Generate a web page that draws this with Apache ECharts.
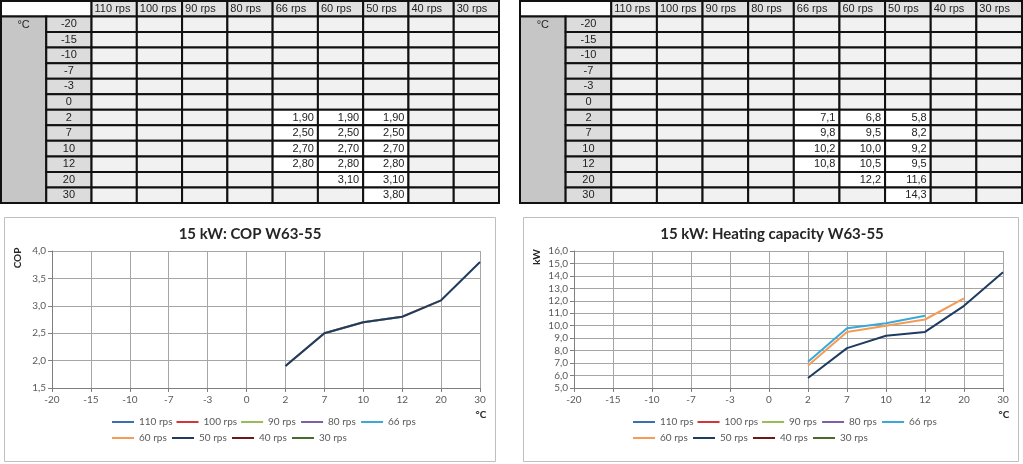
<!DOCTYPE html>
<html>
<head>
<meta charset="utf-8">
<script src="https://cdn.jsdelivr.net/npm/echarts@6/dist/echarts.min.js"></script>
<style>
  html, body { margin: 0; padding: 0; background: #ffffff; }
  #main { width: 1023px; height: 464px; }
</style>
</head>
<body>
<div id="main"></div>
<script>
// ---------- data ----------
const temps = ['-20', '-15', '-10', '-7', '-3', '0', '2', '7', '10', '12', '20', '30'];
const rpsLabels = ['110 rps', '100 rps', '90 rps', '80 rps', '66 rps', '60 rps', '50 rps', '40 rps', '30 rps'];
const rpsColors = ['#3a6fb5', '#d2353a', '#9bbb59', '#7e5fa8', '#38a9d8', '#f59b55', '#1f3b60', '#6b1a1a', '#4a6a2a'];
const E = null;
const none = [E, E, E, E, E, E, E, E, E, E, E, E];
// COP W63-55
const cop66 = [E, E, E, E, E, E, 1.90, 2.50, 2.70, 2.80, E, E];
const cop60 = [E, E, E, E, E, E, 1.90, 2.50, 2.70, 2.80, 3.10, E];
const cop50 = [E, E, E, E, E, E, 1.90, 2.50, 2.70, 2.80, 3.10, 3.80];
// Heating capacity W63-55 (kW)
const cap66 = [E, E, E, E, E, E, 7.1, 9.8, 10.2, 10.8, E, E];
const cap60 = [E, E, E, E, E, E, 6.8, 9.5, 10.0, 10.5, 12.2, E];
const cap50 = [E, E, E, E, E, E, 5.8, 8.2, 9.2, 9.5, 11.6, 14.3];
const copByRps = [none, none, none, none, cop66, cop60, cop50, none, none];
const capByRps = [none, none, none, none, cap66, cap60, cap50, none, none];
const copTitle = '15 kW: COP W63-55';
const capTitle = '15 kW: Heating capacity W63-55';

// ---------- helpers ----------
const FONT = "'Liberation Sans', Arial, sans-serif";
const CFONT = "Lato, 'Open Sans', sans-serif";
function fmt(v, d) { return v.toFixed(d).replace('.', ','); }

function buildCells(values, digits) {
  const cells = [];
  cells.push({ x0: 0, y0: 0, x1: 2, y1: 1, text: '', fill: '#ffffff', align: 'left' });
  rpsLabels.forEach((l, i) => cells.push({ x0: i + 2, y0: 0, x1: i + 3, y1: 1, text: l, fill: '#e2e2e2', align: 'left' }));
  cells.push({ x0: 0, y0: 1, x1: 1, y1: 13, text: '°C', fill: '#c6c6c6', align: 'top' });
  temps.forEach((t, r) => {
    cells.push({ x0: 1, y0: r + 1, x1: 2, y1: r + 2, text: t, fill: '#dcdcdc', align: 'center' });
    rpsLabels.forEach((l, i) => {
      const v = values[i][r];
      cells.push({ x0: i + 2, y0: r + 1, x1: i + 3, y1: r + 2,
        text: v == null ? '' : fmt(v, digits), fill: v == null ? '#f1f1f1' : '#ffffff', align: 'right' });
    });
  });
  return cells;
}

function makeRender(cells) {
  return function (params, api) {
    const c = cells[params.dataIndex];
    const p0 = api.coord([api.value(0), api.value(1)]);
    const p1 = api.coord([api.value(2), api.value(3)]);
    const x = Math.min(p0[0], p1[0]), y = Math.min(p0[1], p1[1]);
    const w = Math.abs(p1[0] - p0[0]), h = Math.abs(p1[1] - p0[1]);
    let tx = x + w / 2, ty = y + h / 2, ta = 'center';
    if (c.align === 'left') { tx = x + 3; ta = 'left'; }
    else if (c.align === 'right') { tx = x + w - 4; ta = 'right'; }
    else if (c.align === 'top') { ty = y + 8; }
    return {
      type: 'group',
      children: [
        { type: 'rect', shape: { x: x, y: y, width: w, height: h },
          style: { fill: c.fill, stroke: '#111111', lineWidth: 2 } },
        { type: 'text', style: { text: c.text, x: tx, y: ty, align: ta, verticalAlign: 'middle',
          font: '11px ' + FONT, fill: '#222222' } }
      ]
    };
  };
}

const copCells = buildCells(copByRps, 2);
const capCells = buildCells(capByRps, 1);

function tableAxes(idx) {
  return {
    x: { type: 'value', gridIndex: idx, min: 0, max: 11, show: false },
    y: { type: 'value', gridIndex: idx, min: 0, max: 13, inverse: true, show: false }
  };
}
const t0 = tableAxes(0), t1 = tableAxes(1);

function chartX(idx) {
  return {
    type: 'category', gridIndex: idx, data: temps, boundaryGap: false,
    axisLine: { lineStyle: { color: '#7f7f7f', width: 1 } },
    axisTick: { show: true, length: 4, lineStyle: { color: '#7f7f7f' } },
    axisLabel: { color: '#595959', fontSize: 10, fontFamily: CFONT, margin: 7 },
    splitLine: { show: true, lineStyle: { color: '#a6a6a6', width: 1 } }
  };
}
function chartY(idx, min, max, interval) {
  return {
    type: 'value', gridIndex: idx, min: min, max: max, interval: interval,
    axisLine: { show: true, lineStyle: { color: '#7f7f7f', width: 1 } },
    axisTick: { show: true, length: 4, lineStyle: { color: '#7f7f7f' } },
    axisLabel: { color: '#595959', fontSize: 10, fontFamily: CFONT, margin: 6,
      formatter: v => fmt(v, 1) },
    splitLine: { show: true, lineStyle: { color: '#a6a6a6', width: 1 } }
  };
}

const series = [
  { type: 'custom', name: 'COP table', xAxisIndex: 0, yAxisIndex: 0, renderItem: makeRender(copCells),
    data: copCells.map(c => [c.x0, c.y0, c.x1, c.y1]), encode: { x: [0, 2], y: [1, 3] }, silent: true },
  { type: 'custom', name: 'Capacity table', xAxisIndex: 1, yAxisIndex: 1, renderItem: makeRender(capCells),
    data: capCells.map(c => [c.x0, c.y0, c.x1, c.y1]), encode: { x: [0, 2], y: [1, 3] }, silent: true }
];
rpsLabels.forEach((name, i) => {
  series.push({ type: 'line', name: name, xAxisIndex: 2, yAxisIndex: 2, data: copByRps[i],
    symbol: 'none', color: rpsColors[i], lineStyle: { width: 2, color: rpsColors[i] }, connectNulls: false });
});
rpsLabels.forEach((name, i) => {
  series.push({ type: 'line', name: name, xAxisIndex: 3, yAxisIndex: 3, data: capByRps[i],
    symbol: 'none', color: rpsColors[i], lineStyle: { width: 2, color: rpsColors[i] }, connectNulls: false });
});

function legendAt(left) {
  return {
    left: left, top: 416, width: 340, orient: 'horizontal', padding: 0,
    icon: 'rect', itemWidth: 22, itemHeight: 2, itemGap: 4,
    textStyle: { fontSize: 10, color: '#595959', fontFamily: CFONT, width: 29, lineHeight: 12 },
    data: rpsLabels
  };
}

const option = {
  animation: false,
  backgroundColor: '#ffffff',
  title: [
    { text: copTitle, left: 250, top: 227, textAlign: 'center', padding: 0,
      textStyle: { fontSize: 15, fontWeight: 'bold', color: '#262626', fontFamily: CFONT } },
    { text: capTitle, left: 772, top: 227, textAlign: 'center', padding: 0,
      textStyle: { fontSize: 15, fontWeight: 'bold', color: '#262626', fontFamily: CFONT } }
  ],
  legend: [legendAt(112), legendAt(633)],
  grid: [
    { left: 1, top: 1, width: 498, height: 202 },
    { left: 520, top: 1, width: 502, height: 202 },
    { left: 52, top: 251, width: 428, height: 137 },
    { left: 574, top: 251, width: 429, height: 137 }
  ],
  xAxis: [t0.x, t1.x, chartX(2), chartX(3)],
  yAxis: [t0.y, t1.y, chartY(2, 1.5, 4, 0.5), chartY(3, 5, 16, 1)],
  graphic: [
    { type: 'rect', z: -1, shape: { x: 4.5, y: 217.5, width: 491, height: 244 },
      style: { fill: 'none', stroke: '#bfbfbf', lineWidth: 1 } },
    { type: 'rect', z: -1, shape: { x: 523.5, y: 217.5, width: 495, height: 244 },
      style: { fill: 'none', stroke: '#bfbfbf', lineWidth: 1 } },
    { type: 'text', x: 18, y: 258, rotation: Math.PI / 2,
      style: { text: 'COP', font: 'bold 10px ' + CFONT, fill: '#262626', align: 'center', verticalAlign: 'middle' } },
    { type: 'text', x: 537, y: 257, rotation: Math.PI / 2,
      style: { text: 'kW', font: 'bold 10px ' + CFONT, fill: '#262626', align: 'center', verticalAlign: 'middle' } },
    { type: 'text', x: 481, y: 415,
      style: { text: '°C', font: 'bold 10px ' + CFONT, fill: '#262626', align: 'center', verticalAlign: 'middle' } },
    { type: 'text', x: 1004, y: 415,
      style: { text: '°C', font: 'bold 10px ' + CFONT, fill: '#262626', align: 'center', verticalAlign: 'middle' } }
  ],
  series: series
};

const chart = echarts.init(document.getElementById('main'), null, { renderer: 'canvas' });
chart.setOption(option);
</script>
</body>
</html>
